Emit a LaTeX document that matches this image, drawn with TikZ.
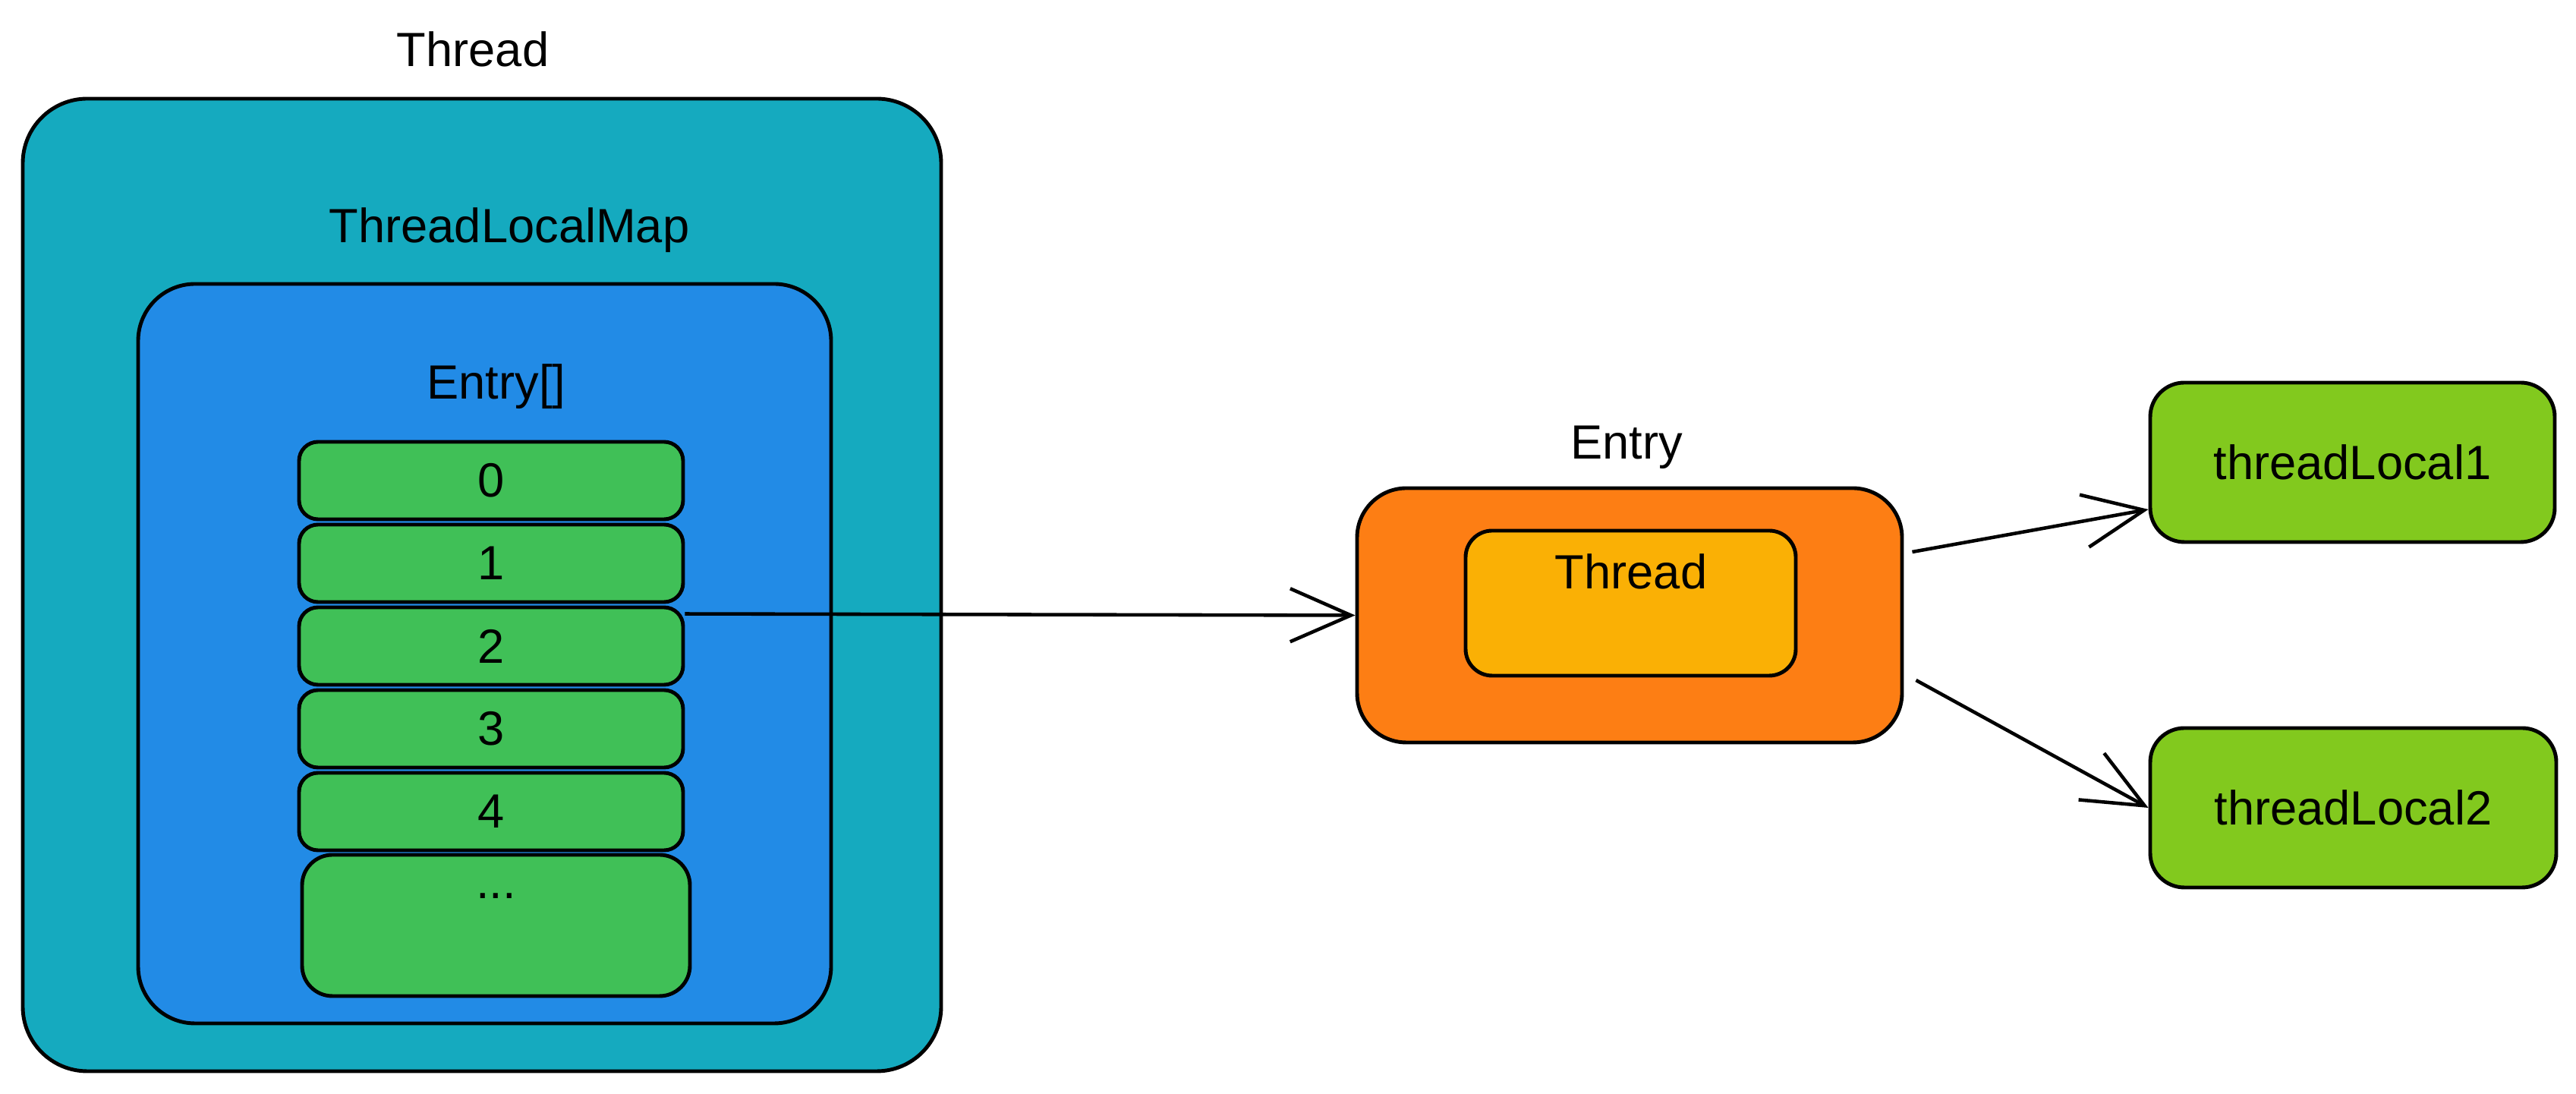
\documentclass[tikz,border=0pt]{standalone}
\usepackage{fontspec}
\setmainfont{Liberation Sans}
\usepackage{tikz}
\usetikzlibrary{positioning, arrows.meta, calc}
\definecolor{threadfill}{HTML}{15AABF}
\definecolor{mapfill}{HTML}{228BE6}
\definecolor{slotfill}{HTML}{40C057}
\definecolor{entryfill}{HTML}{FD7E14}
\definecolor{keyfill}{HTML}{FAB005}
\definecolor{valuefill}{HTML}{82C91E}

\begin{document}
\begin{tikzpicture}[
        every node/.style={font=\fontsize{18}{22}\selectfont},
        box/.style={draw=black, line width=1.4pt, rounded corners=#1, inner sep=0pt},
        box/.default=0.3cm,
        link/.style={-{Straight Barb[length=8mm,width=7mm]}, line width=1.3pt}]
      \useasboundingbox (0,0) rectangle (33.94,14.41);

      % Thread -> ThreadLocalMap -> Entry[]
      \node (lblthread) at (6.23, 13.76) {Thread};
      \node[box=0.85cm, fill=threadfill, minimum width=12.10cm, minimum height=12.81cm]
        (thread) at (6.35, 6.705) {};
      \node (lblmap) at (6.71, 11.38) {ThreadLocalMap};
      \node[box=0.75cm, fill=mapfill, minimum width=9.13cm, minimum height=9.74cm]
        (map) at (6.385, 5.80) {};
      \node (lblarr) at (6.54, 9.32) {Entry[]};
      \foreach \i in {0,...,4} {
        \node[box=0.25cm, fill=slotfill, minimum width=5.06cm, minimum height=1.02cm]
          (slot\i) at (6.47, 8.08-1.09*\i) {\i};
      }
      \node[box=0.4cm, fill=slotfill, minimum width=5.11cm, minimum height=1.86cm]
        (slotmore) at (6.535, 2.22) {};
      \node[anchor=base] (lblmore) at ([yshift=-0.6cm]slotmore.north) {...};

      % Entry
      \node (lblentry) at (21.43, 8.52) {Entry};
      \node[box=0.65cm, fill=entryfill, minimum width=7.18cm, minimum height=3.35cm]
        (entry) at (21.47, 6.305) {};
      \node[box=0.35cm, fill=keyfill, minimum width=4.35cm, minimum height=1.91cm]
        (key) at (21.485, 6.465) {};
      \node (lblkey) at (21.49, 6.88) {Thread};

      % values
      \node[box=0.45cm, fill=valuefill, minimum width=5.33cm, minimum height=2.10cm]
        (tl1) at (30.995, 8.32) {threadLocal1};
      \node[box=0.45cm, fill=valuefill, minimum width=5.35cm, minimum height=2.10cm]
        (tl2) at (31.005, 3.77) {threadLocal2};

      \draw[link] ([yshift=-0.11cm]slot2.north east) -- (entry.west);
      \draw[link] ([shift={(0.11,0.835)}]entry.east) -- ([yshift=-0.62cm]tl1.west);
      \draw[link] ([shift={(0.16,-0.855)}]entry.east) -- (tl2.west);
    \end{tikzpicture}
\end{document}
